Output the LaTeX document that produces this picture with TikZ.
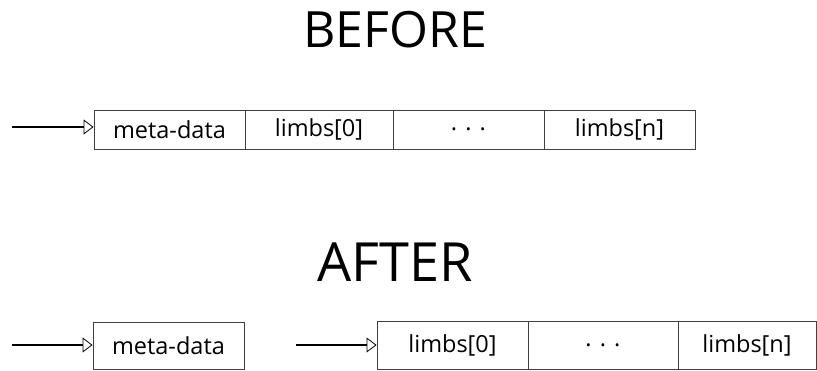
\documentclass[tikz,border=0pt]{standalone}
\usepackage{fontspec}
\setmainfont{Open Sans}
\usetikzlibrary{arrows.meta}
\begin{document}
\begin{tikzpicture}[x=1pt,y=-1pt,
  cell/.style={draw=black!75, line width=0.9pt, rectangle, inner sep=0pt, font=\fontsize{23.5}{26}\selectfont},
  ptr/.style={line width=1.3pt, -{Triangle[open,length=10pt,width=15pt,line width=0.8pt]}},
  title/.style={font=\fontsize{50}{58}\selectfont, inner sep=0pt}]
\useasboundingbox (0,0) rectangle (817,370);
\node[title] (before) at (395,30) {BEFORE};
\node[title, font=\fontsize{54}{60}\selectfont] (after) at (395,262) {AFTER};
% before row
\node[cell, minimum width=151pt, minimum height=39pt] (m1) at (169.5,129.5) {meta-data};
\node[cell, minimum width=148pt, minimum height=39pt] (a0) at (319,129.5) {limbs[0]};
\node[cell, minimum width=151pt, minimum height=39pt] (ad) at (468.5,129.5) {. . .};
\node[cell, minimum width=151pt, minimum height=39pt] (an) at (619.5,129.5) {limbs[n]};
\coordinate (s1) at (12,127);
\draw[ptr] (s1) -- (s1 -| m1.west);
% after row
\node[cell, minimum width=151pt, minimum height=47pt] (m2) at (168.5,345.5) {meta-data};
\node[cell, minimum width=151pt, minimum height=48pt] (b0) at (452.5,345) {limbs[0]};
\node[cell, minimum width=150pt, minimum height=48pt] (bd) at (603,345) {. . .};
\node[cell, minimum width=138pt, minimum height=48pt] (bn) at (747,345) {limbs[n]};
\coordinate (s2) at (12,345);
\coordinate (s3) at (296,345);
\draw[ptr] (s2) -- (s2 -| m2.west);
\draw[ptr] (s3) -- (s3 -| b0.west);
\end{tikzpicture}
\end{document}
